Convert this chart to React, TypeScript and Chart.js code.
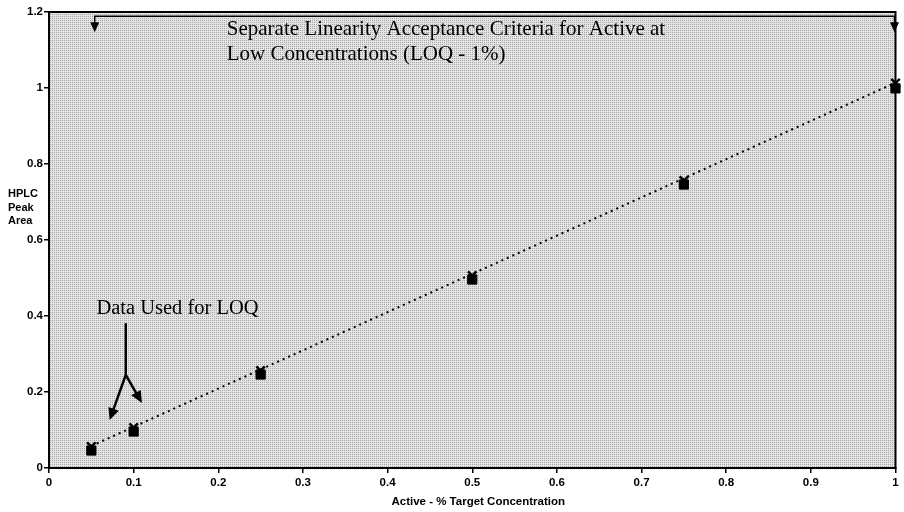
import React, { useEffect, useRef } from "react";
import { Chart, registerables } from "chart.js";

Chart.register(...registerables);

const concentrations = [0.05, 0.1, 0.25, 0.5, 0.75, 1.0];
const peakAreaA = [0.046, 0.096, 0.246, 0.496, 0.746, 0.999];
const peakAreaB = [0.056, 0.106, 0.256, 0.506, 0.756, 1.013];
const trendX = [0.05, 1.0];
const trendY = [0.058, 1.014];
const xTicks = [0, 0.1, 0.2, 0.3, 0.4, 0.5, 0.6, 0.7, 0.8, 0.9, 1];
const yTicks = [0, 0.2, 0.4, 0.6, 0.8, 1, 1.2];
const titleLines = [
  "Separate Linearity Acceptance Criteria for Active at",
  "Low Concentrations (LOQ - 1%)",
];
const loqLabel = "Data Used for LOQ";
const yTitleLines = ["HPLC", "Peak", "Area"];
const xTitle = "Active - % Target Concentration";

// annotation anchors in data units
const bracketX = [0.054, 1.0];
const bracketY = 1.189;
const bracketTipY = 1.147;
const titleAnchor = { x: 0.21, y: [1.14, 1.074] };
const loqTextAnchor = { x: 0.056, y: 0.406 };
const loqStem = { x: 0.0907, top: 0.381, knee: 0.245 };
const loqTips = [
  { x: 0.0716, y: 0.126 },
  { x: 0.1098, y: 0.171 },
];

function makePattern(): CanvasPattern | string {
  const c = document.createElement("canvas");
  c.width = 2;
  c.height = 2;
  const g = c.getContext("2d");
  if (!g) return "#d4d4d4";
  g.fillStyle = "#e4e4e4";
  g.fillRect(0, 0, 2, 2);
  g.fillStyle = "#a6a6a6";
  g.fillRect(0, 0, 1, 1);
  const p = g.createPattern(c, "repeat");
  return p || "#d4d4d4";
}

function arrowHead(ctx: CanvasRenderingContext2D, fx: number, fy: number, tx: number, ty: number, len: number, half: number) {
  const ang = Math.atan2(ty - fy, tx - fx);
  const bx = tx - Math.cos(ang) * len;
  const by = ty - Math.sin(ang) * len;
  const nx = -Math.sin(ang) * half;
  const ny = Math.cos(ang) * half;
  ctx.beginPath();
  ctx.moveTo(tx, ty);
  ctx.lineTo(bx + nx, by + ny);
  ctx.lineTo(bx - nx, by - ny);
  ctx.closePath();
  ctx.fill();
}

export default function App() {
  const ref = useRef<HTMLCanvasElement | null>(null);

  useEffect(() => {
    document.body.style.margin = "0";
    const canvas = ref.current;
    if (!canvas) return;
    const pattern = makePattern();

    const bgPlugin = {
      id: "bg",
      beforeDatasetsDraw(chart: any) {
        const { ctx, chartArea: a } = chart;
        ctx.save();
        ctx.fillStyle = pattern;
        ctx.fillRect(a.left, a.top, a.right - a.left, a.bottom - a.top);
        ctx.restore();
      },
    };

    const annPlugin = {
      id: "ann",
      afterDraw(chart: any) {
        const { ctx, chartArea: a } = chart;
        const xs = chart.scales.x;
        const ys = chart.scales.y;
        const px = (v: number) => xs.getPixelForValue(v);
        const py = (v: number) => ys.getPixelForValue(v);
        ctx.save();
        // frame
        ctx.strokeStyle = "#000";
        ctx.lineWidth = 2;
        ctx.strokeRect(a.left, a.top, a.right - a.left, a.bottom - a.top);

        // bracket
        ctx.fillStyle = "#000";
        ctx.lineWidth = 1.5;
        ctx.beginPath();
        ctx.moveTo(px(bracketX[0]), py(bracketTipY) - 6);
        ctx.lineTo(px(bracketX[0]), py(bracketY));
        ctx.lineTo(px(bracketX[1]) - 1, py(bracketY));
        ctx.lineTo(px(bracketX[1]) - 1, py(bracketTipY) - 6);
        ctx.stroke();
        arrowHead(ctx, px(bracketX[0]), py(bracketY), px(bracketX[0]), py(bracketTipY), 10, 4.5);
        arrowHead(ctx, px(bracketX[1]) - 1, py(bracketY), px(bracketX[1]) - 1, py(bracketTipY), 10, 4.5);

        // title text
        ctx.font = '21px "Liberation Serif"';
        ctx.textAlign = "left";
        ctx.textBaseline = "alphabetic";
        titleLines.forEach((t, i) => ctx.fillText(t, px(titleAnchor.x), py(titleAnchor.y[i])));

        // LOQ label + arrows
        ctx.font = '20.5px "Liberation Serif"';
        ctx.fillText(loqLabel, px(loqTextAnchor.x), py(loqTextAnchor.y));
        ctx.lineWidth = 2.5;
        ctx.beginPath();
        ctx.moveTo(px(loqStem.x), py(loqStem.top));
        ctx.lineTo(px(loqStem.x), py(loqStem.knee));
        ctx.stroke();
        loqTips.forEach((tip) => {
          const sx = px(loqStem.x);
          const sy = py(loqStem.knee);
          const tx = px(tip.x);
          const ty = py(tip.y);
          const ang = Math.atan2(ty - sy, tx - sx);
          ctx.beginPath();
          ctx.moveTo(sx, sy);
          ctx.lineTo(tx - Math.cos(ang) * 8, ty - Math.sin(ang) * 8);
          ctx.stroke();
          arrowHead(ctx, sx, sy, tx, ty, 12, 5.5);
        });

        // axis titles
        ctx.font = 'bold 11px "Liberation Sans"';
        ctx.textBaseline = "middle";
        yTitleLines.forEach((t, i) => ctx.fillText(t, 8, 194 + i * 13.5));
        ctx.textAlign = "center";
        ctx.font = 'bold 11.5px "Liberation Sans"';
        ctx.fillText(xTitle, (a.left + a.right) / 2 + 6, 502);
        ctx.restore();
      },
    };

    const toPts = (ys: number[]) => concentrations.map((x, i) => ({ x, y: ys[i] }));

    const chart = new Chart(canvas, {
      type: "scatter",
      data: {
        datasets: [
          {
            label: "Trend",
            type: "line",
            data: trendX.map((x, i) => ({ x, y: trendY[i] })),
            borderColor: "#000",
            borderWidth: 2,
            borderDash: [2, 4],
            pointRadius: 0,
            fill: false,
          } as any,
          {
            label: "Rep A",
            data: toPts(peakAreaA),
            pointStyle: "rect",
            pointRadius: 6.5,
            backgroundColor: "#000",
            borderColor: "#000",
            borderWidth: 1,
            clip: false,
          } as any,
          {
            label: "Rep B",
            data: toPts(peakAreaB),
            pointStyle: "crossRot",
            pointRadius: 6,
            backgroundColor: "#000",
            borderColor: "#000",
            borderWidth: 2.5,
            clip: false,
          } as any,
        ],
      },
      options: {
        responsive: false,
        animation: false,
        layout: { padding: { left: 0, right: 0, top: 12, bottom: 0 } },
        plugins: { legend: { display: false }, tooltip: { enabled: false } },
        scales: {
          x: {
            type: "linear",
            min: 0,
            max: 1,
            afterFit: (s: any) => {
              s.height = 44;
              s.paddingRight = 0;
            },
            afterBuildTicks: (s: any) => {
              s.ticks = xTicks.map((v) => ({ value: v }));
            },
            ticks: {
              color: "#000",
              font: { family: "Liberation Sans", weight: "bold", size: 11.5 },
              padding: 3,
              maxRotation: 0,
              callback: (v: any) => String(Number(Number(v).toFixed(1))),
            },
            grid: { drawOnChartArea: false, color: "#000", tickLength: 5, lineWidth: 1.5 },
            border: { color: "#000", width: 2 },
          },
          y: {
            type: "linear",
            min: 0,
            max: 1.2,
            afterFit: (s: any) => {
              s.width = 49;
            },
            afterBuildTicks: (s: any) => {
              s.ticks = yTicks.map((v) => ({ value: v }));
            },
            ticks: {
              color: "#000",
              font: { family: "Liberation Sans", weight: "bold", size: 11.5 },
              padding: 1,
              callback: (v: any) => String(Number(Number(v).toFixed(1))),
            },
            grid: { drawOnChartArea: false, color: "#000", tickLength: 5, lineWidth: 1.5 },
            border: { color: "#000", width: 2 },
          },
        },
      },
      plugins: [bgPlugin, annPlugin],
    });
    return () => chart.destroy();
  }, []);

  return (
    <div style={{ width: 904, height: 512, background: "#fff" }}>
      <canvas ref={ref} width={904} height={512} style={{ display: "block" }} />
    </div>
  );
}
